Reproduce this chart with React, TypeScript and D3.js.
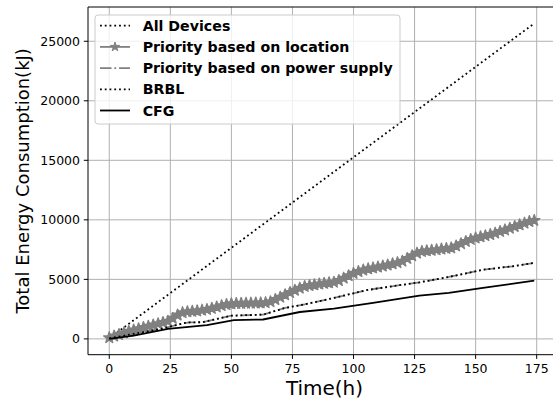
import React from 'react';
import * as d3 from 'd3';

// hours and kJ
const allDevT = [0, 174];
const allDevV = [50, 26500];

// priority based on location, every 2 h (drawn with star markers)
const locV = [
  100, 230, 360, 500, 640, 740, 850, 950, 1060, 1160, 1270, 1370, 1480, 1720, 2000,
  2200, 2280, 2310, 2350, 2410, 2470, 2560, 2680, 2790, 2880, 2940, 2970, 2980, 2990,
  3000, 3010, 3020, 3040, 3120, 3300, 3500, 3700, 3900, 4080, 4260, 4400, 4480, 4540,
  4600, 4660, 4710, 4760, 4900, 5100, 5300, 5500, 5650, 5780, 5880, 5960, 6030, 6110,
  6200, 6300, 6400, 6520, 6750, 6980, 7200, 7340, 7400, 7440, 7490, 7540, 7590, 7640,
  7800, 7990, 8180, 8350, 8470, 8570, 8660, 8760, 8880, 9020, 9150, 9290, 9430, 9580,
  9720, 9850, 9950,
];
const locT = locV.map((_, i) => i * 2);

const powerT = [0, 10, 23, 30, 33, 38, 50, 63, 72, 80, 92, 105, 115, 127, 139, 153, 165, 174];
const powerV = [50, 420, 920, 1300, 1390, 1400, 1950, 2040, 2600, 2900, 3440, 4080, 4400, 4750, 5200, 5810, 6100, 6380];

const brblT = powerT;
const brblV = powerV;

const cfgT = [0, 10, 24, 40, 51, 63, 78, 92, 108, 127, 139, 153, 174];
const cfgV = [0, 280, 850, 1160, 1580, 1630, 2260, 2540, 3020, 3630, 3860, 4280, 4890];

const xTicks = [0, 25, 50, 75, 100, 125, 150, 175];
const yTicks = [0, 5000, 10000, 15000, 20000, 25000];

const legendLabels = [
  'All Devices',
  'Priority based on location',
  'Priority based on power supply',
  'BRBL',
  'CFG',
];

const W = 553;
const H = 403;
const left = 88, right = 555.5, top = 7, bottom = 354.7;
const font = 'DejaVu Sans, sans-serif';

export default function App() {
  const x = d3.scaleLinear().domain([-8.7, 182.7]).range([left, right]);
  const y = d3.scaleLinear().domain([-1327, 27877]).range([bottom, top]);

  const line = (ts: number[], vs: number[]) =>
    d3.line<number>().x((d, i) => x(ts[i])).y((d) => y(d))(vs) || '';

  const star = d3.symbol().type(d3.symbolStar).size(38)() || '';
  const legStar = d3.symbol().type(d3.symbolStar).size(26)() || '';

  const lw = 1.8;
  const dotted = `${lw} ${lw * 1.65}`;
  const dashDot = `${lw * 6.4} ${lw * 1.6} ${lw} ${lw * 1.6}`;

  const styles = [
    { stroke: '#000', dash: dotted },
    { stroke: 'gray', dash: undefined },
    { stroke: 'gray', dash: dashDot },
    { stroke: '#000', dash: dotted },
    { stroke: '#000', dash: undefined },
  ];

  const legX = 95, legY = 15, legW = 305, legH = 109, rowH = 21.2;

  return (
    <svg width={W} height={H} style={{ position: 'absolute', left: 0, top: 0 }} fontFamily={font}>
      <rect width={W} height={H} fill="#fff" />
      <defs>
        <clipPath id="plot">
          <rect x={left} y={top} width={right - left} height={bottom - top} />
        </clipPath>
      </defs>

      {/* grid */}
      {xTicks.map((t) => (
        <line key={'gx' + t} x1={x(t)} x2={x(t)} y1={top} y2={bottom} stroke="#b0b0b0" strokeWidth={1} />
      ))}
      {yTicks.map((t) => (
        <line key={'gy' + t} x1={left} x2={right} y1={y(t)} y2={y(t)} stroke="#b0b0b0" strokeWidth={1} />
      ))}

      <g clipPath="url(#plot)">
        <path d={line(allDevT, allDevV)} fill="none" stroke="#000" strokeWidth={lw} strokeDasharray={dotted} />
        <path d={line(locT, locV)} fill="none" stroke="gray" strokeWidth={lw} />
        {locV.map((v, i) => (
          <path key={'s' + i} d={star} transform={`translate(${x(locT[i])},${y(v)})`} fill="gray" stroke="gray" strokeWidth={1.5} strokeLinejoin="round" />
        ))}
        <path d={line(powerT, powerV)} fill="none" stroke="gray" strokeWidth={lw} strokeDasharray={dashDot} />
        <path d={line(brblT, brblV)} fill="none" stroke="#000" strokeWidth={lw} strokeDasharray={dotted} />
        <path d={line(cfgT, cfgV)} fill="none" stroke="#000" strokeWidth={lw} />
      </g>

      {/* spines */}
      <line x1={left} x2={left} y1={top} y2={bottom} stroke="#000" strokeWidth={1} />
      <line x1={left} x2={right} y1={bottom} y2={bottom} stroke="#000" strokeWidth={1} />
      <line x1={left} x2={right} y1={top} y2={top} stroke="#000" strokeWidth={1} />

      {/* x axis */}
      {xTicks.map((t) => (
        <g key={'xt' + t}>
          <line x1={x(t)} x2={x(t)} y1={bottom} y2={bottom + 4.2} stroke="#000" />
          <text x={x(t)} y={bottom + 18.5} fontSize={12.5} textAnchor="middle">{t}</text>
        </g>
      ))}
      {/* y axis */}
      {yTicks.map((t) => (
        <g key={'yt' + t}>
          <line x1={left - 4.2} x2={left} y1={y(t)} y2={y(t)} stroke="#000" />
          <text x={left - 8} y={y(t)} fontSize={12.5} textAnchor="end" dominantBaseline="central">{t}</text>
        </g>
      ))}

      <text x={(left + 553) / 2 + 4} y={395} fontSize={20} textAnchor="middle">Time(h)</text>
      <text transform={`translate(29,${(top + bottom) / 2}) rotate(-90)`} fontSize={18} textAnchor="middle">
        Total Energy Consumption(kJ)
      </text>

      {/* legend */}
      <rect x={legX} y={legY} width={legW} height={legH} rx={3} fill="#fff" fillOpacity={0.8} stroke="#cccccc" strokeWidth={1} />
      {legendLabels.map((name, i) => {
        const cy = legY + 10.7 + i * rowH;
        const s = styles[i];
        return (
          <g key={name}>
            <line x1={100} x2={130} y1={cy} y2={cy} stroke={s.stroke} strokeWidth={lw} strokeDasharray={s.dash} />
            {i === 1 && <path d={legStar} transform={`translate(115,${cy})`} fill="gray" stroke="gray" strokeWidth={1} />}
            <text x={142.7} y={cy} fontSize={14.2} fontWeight="bold" dominantBaseline="central">{name}</text>
          </g>
        );
      })}
    </svg>
  );
}
